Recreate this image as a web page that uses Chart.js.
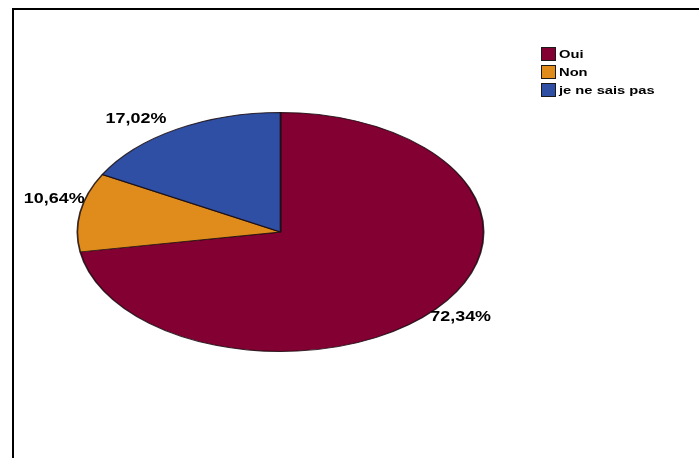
<!DOCTYPE html>
<html>
<head>
<meta charset="utf-8">
<script src="https://cdn.jsdelivr.net/npm/chart.js@4/dist/chart.umd.min.js"></script>
<style>
  html, body { margin: 0; padding: 0; background: #fff; }
  #wrap { position: relative; width: 699px; height: 458px; overflow: hidden; }
  #frame { position: absolute; left: 12px; top: 8px; right: -4px; bottom: -4px;
           border-left: 2px solid #000; border-top: 2px solid #000; pointer-events: none; }
  canvas { position: absolute; left: 0; top: 0; }
</style>
</head>
<body>
<div id="wrap">
  <canvas id="c" width="699" height="458"></canvas>
  <div id="frame"></div>
</div>
<script>
// Survey answers
const categories = ['Oui', 'Non', 'je ne sais pas'];
const shares = [72.34, 10.64, 17.02];
const sliceColors = ['#820032', '#e08c1c', '#2e4fa3'];

// Horizontal stretch that turns the round pie into an ellipse
const STRETCH_X = 204 / 120;
const TEXT_STRETCH = 1.28;

function pct(v) { return v.toFixed(2).replace('.', ',') + '%'; }

const ellipsePlugin = {
  id: 'ellipse',
  beforeDatasetsDraw(chart) {
    const arc = chart.getDatasetMeta(0).data[0];
    const ctx = chart.ctx;
    ctx.save();
    ctx.translate(arc.x, arc.y);
    ctx.scale(STRETCH_X, 1);
    ctx.translate(-arc.x, -arc.y);
  },
  afterDatasetsDraw(chart) {
    chart.ctx.restore();
  }
};

const sliceLabels = {
  id: 'sliceLabels',
  afterDatasetsDraw(chart, args, opts) {
    const ctx = chart.ctx;
    const meta = chart.getDatasetMeta(0);
    const values = chart.data.datasets[0].data;
    meta.data.forEach((arc, i) => {
      const mid = (arc.startAngle + arc.endAngle) / 2;
      const ex = arc.x + Math.cos(mid) * arc.outerRadius * STRETCH_X;
      const ey = arc.y + Math.sin(mid) * arc.outerRadius;
      const off = opts.offsets[i];
      ctx.save();
      ctx.translate(ex + off[0], ey + off[1]);
      ctx.scale(TEXT_STRETCH, 1);
      ctx.font = 'bold 14px "Liberation Sans", Arial, sans-serif';
      ctx.fillStyle = '#000';
      ctx.textAlign = 'center';
      ctx.textBaseline = 'middle';
      ctx.fillText(pct(values[i]), 0, 0);
      ctx.restore();
    });
  }
};

const sideLegend = {
  id: 'sideLegend',
  afterDraw(chart, args, opts) {
    const ctx = chart.ctx;
    const ds = chart.data.datasets[0];
    chart.data.labels.forEach((lab, i) => {
      const top = opts.top + i * opts.step;
      ctx.save();
      ctx.fillStyle = ds.backgroundColor[i];
      ctx.fillRect(opts.left, top, 15, 14);
      ctx.strokeStyle = '#1a1a1a';
      ctx.lineWidth = 1;
      ctx.strokeRect(opts.left + 0.5, top + 0.5, 14, 13);
      ctx.translate(opts.left + 18, top + 7.5);
      ctx.scale(TEXT_STRETCH, 1);
      ctx.font = 'bold 11.5px "Liberation Sans", Arial, sans-serif';
      ctx.fillStyle = '#000';
      ctx.textAlign = 'left';
      ctx.textBaseline = 'middle';
      ctx.fillText(lab, 0, 0);
      ctx.restore();
    });
  }
};

new Chart(document.getElementById('c'), {
  type: 'pie',
  data: {
    labels: categories,
    datasets: [{
      data: shares,
      backgroundColor: sliceColors,
      borderColor: 'rgba(25,10,15,0.85)',
      borderWidth: 1,
      clip: false
    }]
  },
  options: {
    responsive: false,
    animation: false,
    events: [],
    layout: { padding: { left: 160, right: 298, top: 112, bottom: 106 } },
    plugins: {
      legend: { display: false },
      tooltip: { enabled: false },
      sliceLabels: { offsets: [[25, 8], [-26, -13], [-41, -10]] },
      sideLegend: { left: 541, top: 47, step: 18 }
    }
  },
  plugins: [ellipsePlugin, sliceLabels, sideLegend]
});
</script>
</body>
</html>
